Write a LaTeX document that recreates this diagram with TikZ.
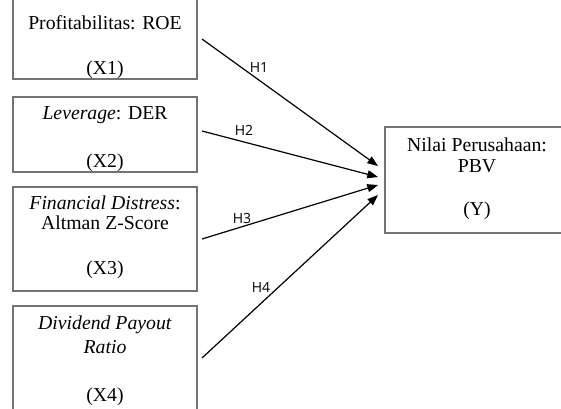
\documentclass[tikz,border=0pt]{standalone}
\usepackage{fontspec}
\setmainfont{Liberation Serif}
\newfontfamily\lblfont{Open Sans}
\usetikzlibrary{arrows.meta}
\tikzset{
  varbox/.style={draw=black!55, line width=1.1pt, rectangle, inner sep=0pt},
  boxtext/.style={font=\fontsize{14.8}{16}\selectfont, inner sep=0pt, anchor=center},
  hyp/.style={font=\lblfont\fontsize{10.5}{11}\selectfont, inner sep=0pt},
  arr/.style={line width=0.9pt, -{Triangle[length=8pt,width=6pt]}}
}
\begin{document}
\begin{tikzpicture}[x=0.75pt,y=-0.75pt]
\useasboundingbox (0,0) rectangle (561,408);
\clip (0,0) rectangle (561,408);
\fill[white] (0,0) rectangle (561,408);
% boxes
\node[varbox, minimum width=184*0.75pt, minimum height=90*0.75pt] (b1) at (105,34) {};
\node[varbox, minimum width=184*0.75pt, minimum height=75*0.75pt] (b2) at (105,134.5) {};
\node[varbox, minimum width=184*0.75pt, minimum height=104*0.75pt] (b3) at (105,239) {};
\node[varbox, minimum width=184*0.75pt, minimum height=115*0.75pt] (b4) at (105,363.5) {};
\node[varbox, minimum width=190*0.75pt, minimum height=106*0.75pt] (y) at (480,180) {};
% texts
\node[boxtext] (t1a) at (105,23) {Profitabilitas: ROE};
\node[boxtext] (t1b) at (105,70) {(X1)};
\node[boxtext] (t2a) at (105,115) {\textit{Leverage}: DER};
\node[boxtext] (t2b) at (105,163) {(X2)};
\node[boxtext] (t3a) at (105,203) {\textit{Financial Distress}:};
\node[boxtext] (t3b) at (105,223) {Altman Z-Score};
\node[boxtext] (t3c) at (105,270) {(X3)};
\node[boxtext] (t4a) at (105,325) {\textit{Dividend Payout}};
\node[boxtext] (t4b) at (105,347) {\textit{Ratio}};
\node[boxtext] (t4c) at (105,397) {(X4)};
\node[boxtext] (tya) at (477,145) {Nilai Perusahaan:};
\node[boxtext] (tyb) at (477,166) {PBV};
\node[boxtext] (tyc) at (477,211) {(Y)};
% connector ends
\coordinate (s1) at (202,39);
\coordinate (s2) at (202,131);
\coordinate (s3) at (202,239);
\coordinate (s4) at (202,358);
\coordinate (e1) at (378,166);
\coordinate (e2) at (378,177);
\coordinate (e3) at (378,185);
\coordinate (e4) at (378,195);
\draw[arr] (s1) -- (e1);
\draw[arr] (s2) -- (e2);
\draw[arr] (s3) -- (e3);
\draw[arr] (s4) -- (e4);
% labels
\node[hyp] (h1) at (259,67) {H1};
\node[hyp] (h2) at (244,130) {H2};
\node[hyp] (h3) at (242,218) {H3};
\node[hyp] (h4) at (261,287) {H4};
\end{tikzpicture}
\end{document}
